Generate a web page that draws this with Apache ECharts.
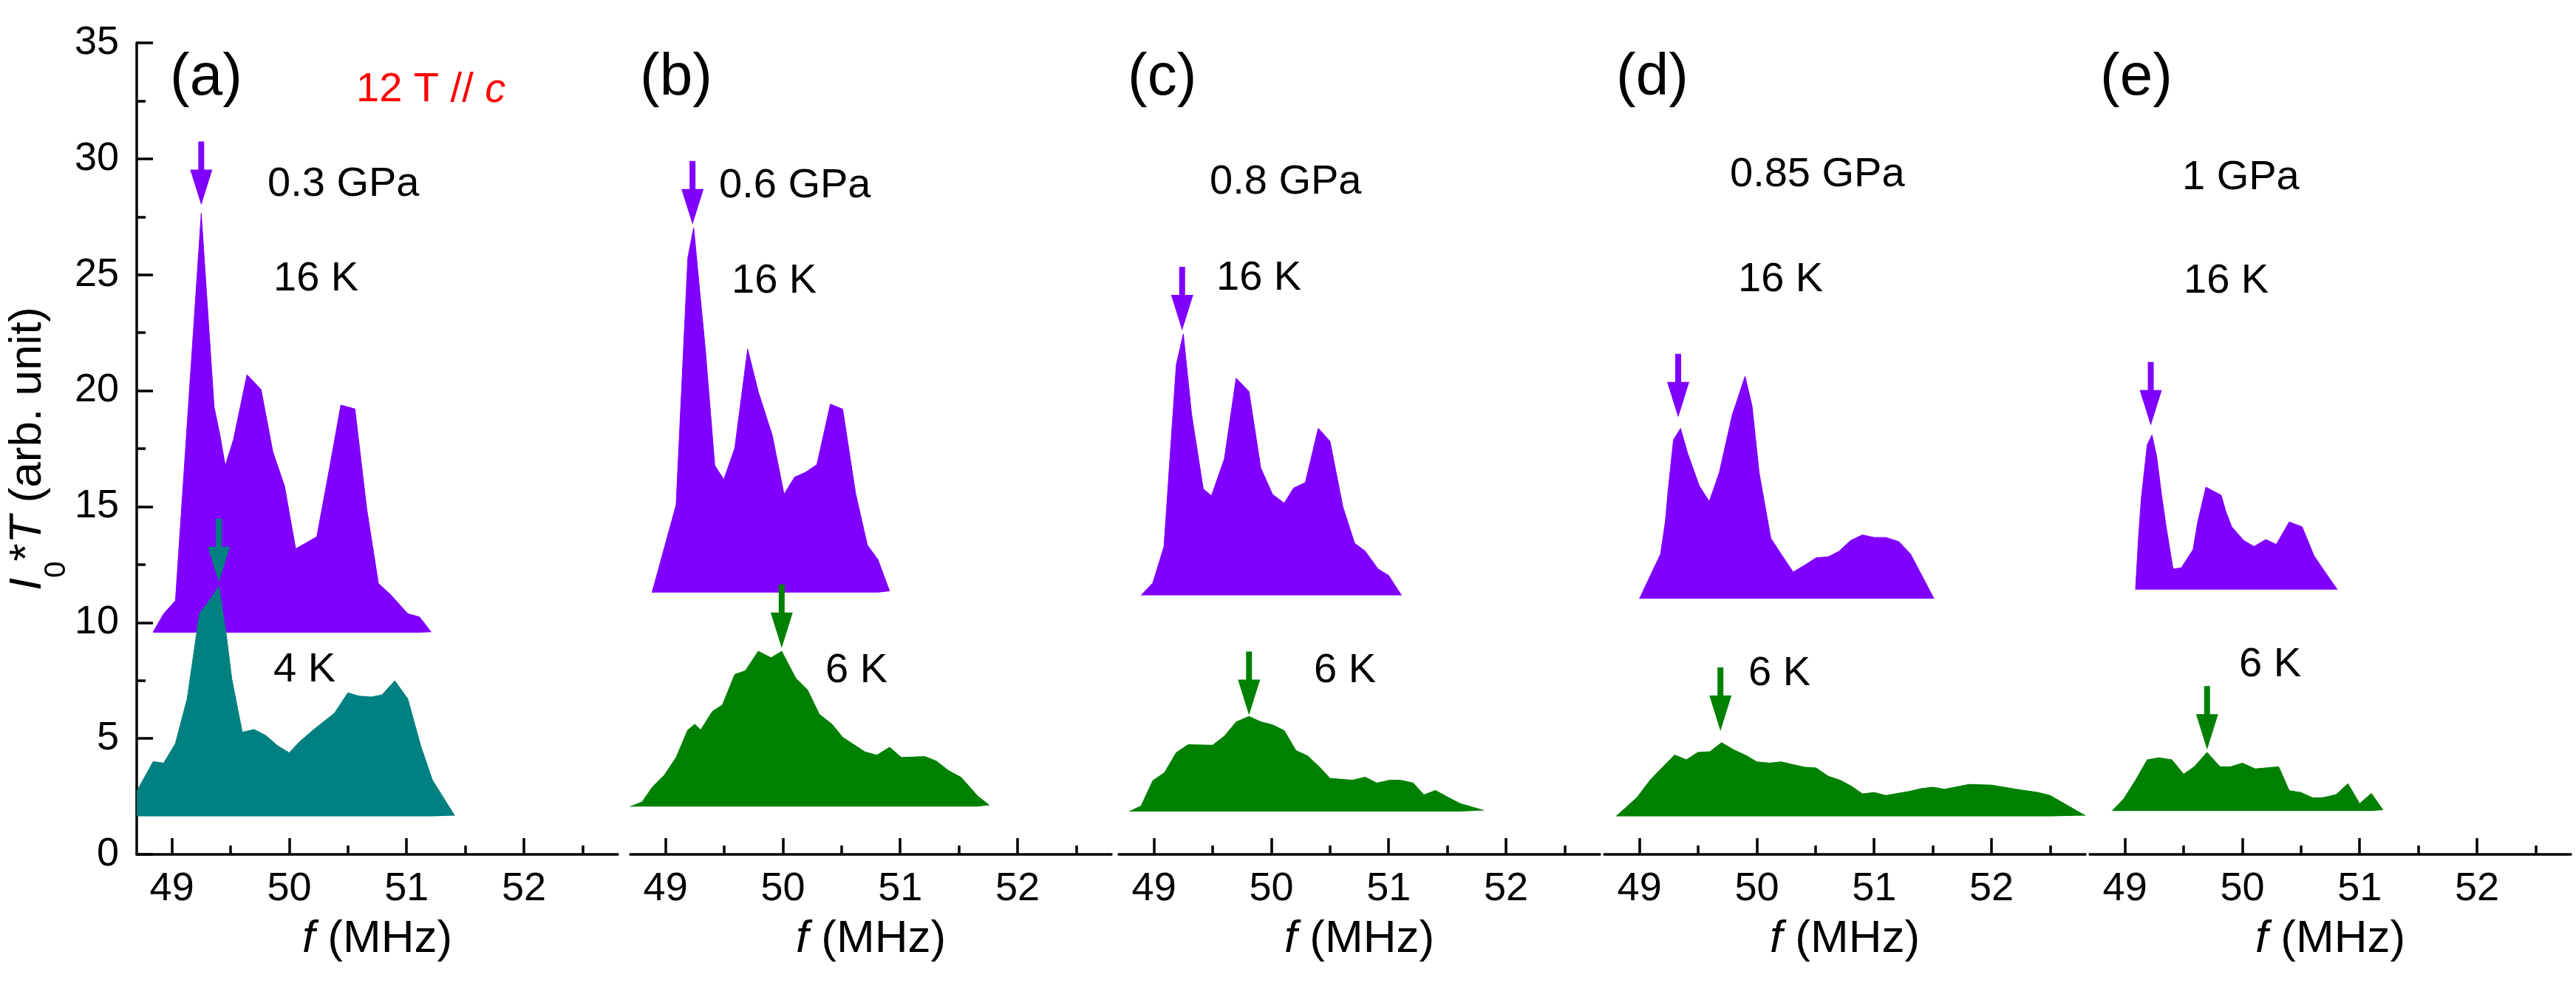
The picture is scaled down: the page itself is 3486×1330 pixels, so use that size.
<!DOCTYPE html>
<html>
<head>
<meta charset="utf-8">
<script src="https://cdn.jsdelivr.net/npm/echarts@6.0.0/dist/echarts.min.js"></script>
<style>
html, body { margin: 0; padding: 0; background: #fff; }
#main { width: 3486px; height: 1330px; }
</style>
</head>
<body>
<div id="main"></div>
<script>
// ---- data (f in MHz, intensity in arb. unit) ----
// (a) 0.3 GPa
var fA16 = [48.84, 48.93, 49.03, 49.25, 49.36, 49.41, 49.455, 49.525, 49.64, 49.76, 49.86, 49.96, 50.055, 50.235, 50.35, 50.44, 50.56, 50.66, 50.76, 50.87, 51.01, 51.11, 51.21];
var iA16 = [9.59, 10.38, 10.94, 27.65, 19.29, 18.07, 16.76, 17.9, 20.69, 20.05, 17.37, 15.88, 13.18, 13.7, 16.85, 19.38, 19.21, 14.92, 11.69, 11.17, 10.38, 10.24, 9.59];
var fA4 = [48.70, 48.84, 48.93, 49.03, 49.13, 49.235, 49.33, 49.40, 49.465, 49.51, 49.60, 49.70, 49.80, 49.90, 50.00, 50.09, 50.21, 50.385, 50.50, 50.59, 50.70, 50.79, 50.90, 51.01, 51.12, 51.22, 51.41];
var iA4 = [2.72, 4.0, 3.94, 4.78, 6.71, 10.38, 11.02, 11.57, 9.42, 7.58, 5.27, 5.39, 5.13, 4.69, 4.38, 4.87, 5.39, 6.09, 6.97, 6.83, 6.79, 6.88, 7.49, 6.71, 4.69, 3.21, 1.67];
// (b) 0.6 GPa
var fB16 = [48.885, 49.09, 49.19, 49.24, 49.34, 49.42, 49.497, 49.59, 49.70, 49.79, 49.91, 50.01, 50.10, 50.19, 50.29, 50.405, 50.51, 50.62, 50.72, 50.81, 50.91];
var iB16 = [11.29, 15.07, 25.73, 27.03, 21.75, 16.77, 16.17, 17.52, 21.79, 19.96, 18.07, 15.53, 16.27, 16.47, 16.81, 19.42, 19.2, 15.57, 13.34, 12.72, 11.35];
var fB6 = [48.70, 48.80, 48.89, 48.99, 49.09, 49.19, 49.25, 49.30, 49.40, 49.485, 49.59, 49.68, 49.79, 49.90, 49.99, 50.11, 50.21, 50.31, 50.42, 50.51, 50.70, 50.80, 50.91, 51.01, 51.21, 51.31, 51.41, 51.52, 51.66, 51.76];
var iB6 = [2.06, 2.26, 2.92, 3.42, 4.18, 5.37, 5.61, 5.37, 6.17, 6.45, 7.76, 7.92, 8.76, 8.48, 8.76, 7.6, 7.1, 6.05, 5.61, 5.05, 4.42, 4.28, 4.62, 4.18, 4.22, 4.02, 3.62, 3.32, 2.52, 2.12];
// (c) 0.8 GPa
var fC16 = [48.89, 48.99, 49.085, 49.19, 49.25, 49.32, 49.42, 49.49, 49.60, 49.70, 49.81, 49.91, 50.01, 50.11, 50.19, 50.29, 50.40, 50.50, 50.61, 50.71, 50.80, 50.91, 51.00, 51.11];
var iC16 = [11.17, 11.71, 13.27, 21.11, 22.45, 19.01, 15.76, 15.47, 17.06, 20.54, 19.96, 16.67, 15.53, 15.15, 15.8, 16.04, 18.38, 17.82, 14.99, 13.42, 13.08, 12.31, 12.03, 11.17];
var fC6 = [48.79, 48.89, 48.99, 49.09, 49.19, 49.29, 49.50, 49.60, 49.70, 49.81, 49.91, 50.01, 50.11, 50.21, 50.31, 50.41, 50.50, 50.69, 50.80, 50.90, 51.01, 51.10, 51.21, 51.30, 51.40, 51.50, 51.61, 51.81];
var iC6 = [1.85, 2.09, 3.18, 3.53, 4.39, 4.73, 4.71, 5.1, 5.71, 5.95, 5.72, 5.59, 5.34, 4.48, 4.25, 3.77, 3.28, 3.2, 3.33, 3.08, 3.2, 3.2, 3.08, 2.57, 2.76, 2.48, 2.19, 1.9];
// (d) 0.85 GPa
var fD16 = [49.00, 49.18, 49.22, 49.245, 49.29, 49.35, 49.41, 49.51, 49.595, 49.68, 49.79, 49.90, 49.96, 50.02, 50.12, 50.21, 50.31, 50.41, 50.505, 50.61, 50.70, 50.80, 50.90, 51.00, 51.10, 51.21, 51.31, 51.51];
var iD16 = [11.03, 12.96, 14.34, 15.75, 17.88, 18.37, 17.31, 15.89, 15.22, 16.46, 18.94, 20.62, 19.33, 16.46, 13.63, 12.93, 12.18, 12.48, 12.79, 12.84, 13.07, 13.54, 13.78, 13.67, 13.67, 13.49, 12.96, 11.03];
var fD6 = [48.80, 48.98, 49.09, 49.20, 49.30, 49.40, 49.497, 49.60, 49.70, 49.80, 49.91, 50.00, 50.11, 50.21, 50.31, 50.41, 50.505, 50.61, 50.71, 50.81, 50.90, 51.00, 51.10, 51.30, 51.40, 51.50, 51.60, 51.81, 52.00, 52.21, 52.40, 52.50, 52.80];
var iD6 = [1.64, 2.46, 3.2, 3.78, 4.29, 4.08, 4.4, 4.43, 4.82, 4.52, 4.26, 3.99, 3.94, 3.99, 3.87, 3.76, 3.73, 3.37, 3.2, 2.93, 2.61, 2.67, 2.54, 2.72, 2.84, 2.9, 2.81, 3.02, 2.99, 2.81, 2.67, 2.54, 1.67];
// (e) 1 GPa
var fE16 = [49.09, 49.117, 49.14, 49.19, 49.23, 49.27, 49.31, 49.35, 49.41, 49.48, 49.58, 49.62, 49.69, 49.82, 49.86, 49.91, 50.01, 50.10, 50.20, 50.29, 50.40, 50.51, 50.61, 50.70, 50.81];
var iE16 = [11.42, 13.81, 15.4, 17.67, 18.09, 17.17, 15.58, 14.16, 12.31, 12.36, 13.14, 14.34, 15.84, 15.49, 14.78, 14.13, 13.55, 13.28, 13.58, 13.37, 14.34, 14.13, 12.89, 12.22, 11.42];
var fE6 = [48.89, 48.99, 49.09, 49.19, 49.29, 49.40, 49.50, 49.59, 49.70, 49.81, 49.90, 50.00, 50.11, 50.31, 50.40, 50.50, 50.60, 50.69, 50.80, 50.90, 51.00, 51.10, 51.20];
var iE6 = [1.87, 2.4, 3.2, 4.08, 4.17, 4.08, 3.46, 3.78, 4.4, 3.78, 3.78, 3.94, 3.69, 3.78, 2.75, 2.67, 2.44, 2.45, 2.58, 3.05, 2.19, 2.63, 1.91];

// baselines of the filled spectra (offsets), per panel
var base16 = [9.56, 11.29, 11.17, 11.03, 11.42];
var baseLow = [1.64, 2.06, 1.85, 1.64, 1.87];

// arrow tips (peak markers)
var arrow16F = [49.25, 49.23, 49.24, 49.33, 49.22];
var arrow16V = [28.0, 27.17, 22.6, 18.85, 18.5];
var arrowLowF = [49.40, 49.99, 49.81, 49.69, 49.70];
var arrowLowV = [11.74, 8.90, 6.01, 5.32, 4.52];

// texts
var panelLabels = ['(a)', '(b)', '(c)', '(d)', '(e)'];
var pressureLabels = ['0.3 GPa', '0.6 GPa', '0.8 GPa', '0.85 GPa', '1 GPa'];
var lowTempLabels = ['4 K', '6 K', '6 K', '6 K', '6 K'];
var xTicks = [49, 50, 51, 52];
var xMinorTicks = [49.5, 50.5, 51.5, 52.5];
var yMinorTicks = [2.5, 7.5, 12.5, 17.5, 22.5, 27.5, 32.5];

var FONT = '"Liberation Sans", Arial, Helvetica, sans-serif';
var PURPLE = '#8000ff', TEAL = '#008080', GREEN = '#008000';
// down-pointing arrow, tip at the bottom
var ARROW = 'path://M11,0 L19,0 L19,38 L30,38 L15,86 L0,38 L11,38 Z';

var f16 = [fA16, fB16, fC16, fD16, fE16];
var i16 = [iA16, iB16, iC16, iD16, iE16];
var fLow = [fA4, fB6, fC6, fD6, fE6];
var iLow = [iA4, iB6, iC6, iD6, iE6];
var lowColors = [TEAL, GREEN, GREEN, GREEN, GREEN];

function pairs(xs, ys) {
	var out = [];
	for (var i = 0; i < xs.length; i++) out.push([xs[i], ys[i]]);
	return out;
}

var gridLeft = [185, 853, 1514, 2171, 2828];
var grids = [], xAxes = [], yAxes = [], series = [];
var axisLineStyle = { color: '#000', width: 3.5 };

for (var k = 0; k < 5; k++) {
	grids.push({ left: gridLeft[k], width: 651, top: 58, height: 1098, outerBoundsMode: 'none' });

	xAxes.push({
		gridIndex: k, type: 'value', min: 48.7, max: 52.8, position: 'bottom',
		name: '{i|f}{n| (MHz)}', nameLocation: 'middle', nameGap: 84,
		nameTextStyle: {
			color: '#000',
			rich: {
				i: { fontSize: 62, fontStyle: 'italic', fontFamily: FONT, color: '#000' },
				n: { fontSize: 62, fontFamily: FONT, color: '#000' }
			}
		},
		axisLine: { show: true, onZero: false, lineStyle: axisLineStyle },
		axisTick: { show: true, inside: true, length: 22, lineStyle: axisLineStyle, customValues: xTicks },
		axisLabel: { show: true, customValues: xTicks, fontSize: 54, fontFamily: FONT, color: '#000', margin: 20 },
		splitLine: { show: false }
	});

	yAxes.push({
		gridIndex: k, type: 'value', min: 0, max: 35, interval: 5, position: 'left',
		show: k === 0,
		name: k === 0 ? '{i|I}{s|0}{n|*}{i|T}{n| (arb. unit)}' : '',
		nameLocation: 'middle', nameGap: 80, nameRotate: 90,
		nameTextStyle: {
			color: '#000',
			rich: {
				i: { fontSize: 62, fontStyle: 'italic', fontFamily: FONT, color: '#000', lineHeight: 62, verticalAlign: 'top' },
				n: { fontSize: 62, fontFamily: FONT, color: '#000', lineHeight: 62, verticalAlign: 'top' },
				s: { fontSize: 40, fontFamily: FONT, color: '#000', lineHeight: 40, verticalAlign: 'top', padding: [50, 0, 0, 0] }
			}
		},
		axisLine: { show: true, onZero: false, lineStyle: axisLineStyle },
		axisTick: { show: true, inside: true, length: 22, lineStyle: axisLineStyle },
		axisLabel: { fontSize: 54, fontFamily: FONT, color: '#000', margin: 24 },
		splitLine: { show: false }
	});

	series.push({
		type: 'line', xAxisIndex: k, yAxisIndex: k, data: pairs(f16[k], i16[k]),
		symbol: 'none', silent: true, z: 2,
		lineStyle: { color: PURPLE, width: 1 },
		itemStyle: { color: PURPLE },
		areaStyle: { color: PURPLE, opacity: 1, origin: base16[k] }
	});
	series.push({
		type: 'line', xAxisIndex: k, yAxisIndex: k, data: pairs(fLow[k], iLow[k]),
		symbol: 'none', silent: true, z: 3,
		lineStyle: { color: lowColors[k], width: 1 },
		itemStyle: { color: lowColors[k] },
		areaStyle: { color: lowColors[k], opacity: 1, origin: baseLow[k] }
	});
	series.push({
		type: 'scatter', xAxisIndex: k, yAxisIndex: k, silent: true, z: 5,
		symbol: ARROW, symbolSize: [30, 86], symbolOffset: [0, '-50%'],
		itemStyle: { opacity: 1 },
		data: [
			{ value: [arrow16F[k], arrow16V[k]], itemStyle: { color: PURPLE, opacity: 1 } },
			{ value: [arrowLowF[k], arrowLowV[k]], itemStyle: { color: lowColors[k], opacity: 1 } }
		]
	});
}

// minor ticks
for (var m = 0; m < 5; m++) {
	xAxes.push({
		gridIndex: m, type: 'value', min: 48.7, max: 52.8, position: 'bottom',
		axisLine: { show: false },
		axisTick: { show: true, inside: true, length: 12, lineStyle: axisLineStyle, customValues: xMinorTicks },
		axisLabel: { show: false },
		splitLine: { show: false }
	});
}
yAxes.push({
	gridIndex: 0, type: 'value', min: 0, max: 35, position: 'left',
	axisLine: { show: false },
	axisTick: { show: true, inside: true, length: 12, lineStyle: axisLineStyle, customValues: yMinorTicks },
	axisLabel: { show: false },
	splitLine: { show: false }
});

// annotation texts
var textFont = '56px ' + FONT;
var graphics = [];
function addText(txt, x, y, font, color) {
	graphics.push({
		type: 'text', x: x, y: y, silent: true, z: 10,
		style: { text: txt, font: font, fill: color || '#000', textAlign: 'left', textVerticalAlign: 'middle' }
	});
}
var labelX = [230, 866, 1526, 2187, 2842];
var pressX = [362, 973, 1637, 2341, 2953];
var pressY = [250, 252, 247, 237, 241];
var k16X = [370, 990, 1646, 2352, 2955];
var k16Y = [378, 381, 377, 379, 381];
var lowX = [370, 1117, 1778, 2366, 3030];
var lowY = [907, 908, 908, 912, 900];
for (var p = 0; p < 5; p++) {
	addText(panelLabels[p], labelX[p], 106, '80px ' + FONT);
	addText(pressureLabels[p], pressX[p], pressY[p], textFont);
	addText('16 K', k16X[p], k16Y[p], textFont);
	addText(lowTempLabels[p], lowX[p], lowY[p], textFont);
}
graphics.push({
	type: 'text', x: 482, y: 122, silent: true, z: 10,
	style: {
		text: '{n|12 T // }{i|c}', textAlign: 'left', textVerticalAlign: 'middle',
		rich: {
			n: { fontSize: 56, fontFamily: FONT, fill: '#ff0000' },
			i: { fontSize: 56, fontFamily: FONT, fontStyle: 'italic', fill: '#ff0000' }
		}
	}
});

var myChart = echarts.init(document.getElementById('main'));
var option = {
	backgroundColor: '#fff',
	animation: false,
	textStyle: { fontFamily: FONT },
	grid: grids,
	xAxis: xAxes,
	yAxis: yAxes,
	series: series,
	graphic: graphics
};
myChart.setOption(option);
</script>
</body>
</html>
